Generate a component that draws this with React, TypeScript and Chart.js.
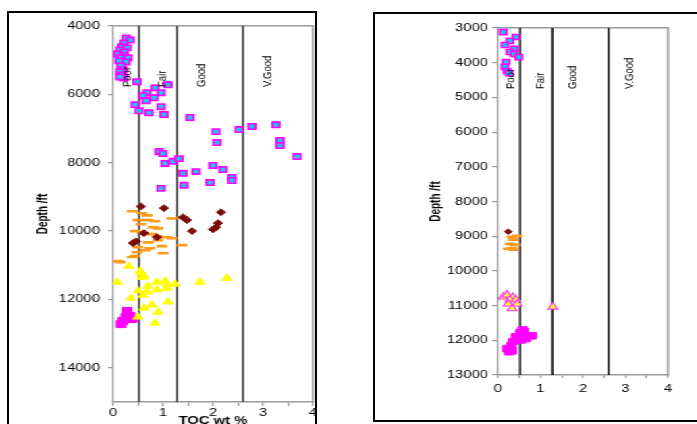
import React, { useEffect, useRef } from 'react';
import { Chart, registerables } from 'chart.js';

Chart.register(...registerables);

// ---------------- data ----------------
const tocMin = 0;
const tocMax = 4;
const tocTicks = [0, 0.5, 1, 1.5, 2, 2.5, 3, 3.5, 4];
const thresholds = [0.52, 1.28, 2.6];
const classNames = ['Poor', 'Fair', 'Good', 'V.Good'];
const classLabelTOC = [0.3, 1.0, 1.77, 3.1];

const leftDepthMin = 4000;
const leftDepthMax = 15000;
const leftDepthTicks = [4000, 6000, 8000, 10000, 12000, 14000];
const rightDepthMin = 3000;
const rightDepthMax = 13000;
const rightDepthTicks = [3000, 4000, 5000, 6000, 7000, 8000, 9000, 10000, 11000, 12000, 13000];

// left well
const leftSquaresTOC = [0.26, 0.34, 0.22, 0.18, 0.28, 0.14, 0.22, 0.10, 0.22, 0.16, 0.30, 0.12, 0.26, 0.16, 0.20, 0.14, 0.18, 0.22, 0.14, 0.48, 1.10, 0.84, 0.68, 0.96, 0.60, 0.82, 0.66, 0.44, 0.96, 0.52, 0.72, 1.02, 1.54, 2.06, 2.08, 2.52, 2.78, 3.26, 3.34, 3.34, 3.68, 0.92, 1.00, 1.04, 1.20, 1.32, 1.40, 1.66, 2.00, 2.20, 2.38, 2.38, 1.94, 1.42, 0.96];
const leftSquaresDepth = [4350, 4410, 4500, 4610, 4640, 4700, 4760, 4820, 4870, 4930, 4930, 5020, 5050, 5170, 5280, 5340, 5430, 5520, 5490, 5630, 5720, 5810, 5950, 5950, 6040, 6100, 6190, 6300, 6360, 6480, 6540, 6590, 6680, 7090, 7410, 7030, 6940, 6890, 7350, 7500, 7820, 7670, 7730, 8020, 7960, 7880, 8310, 8260, 8080, 8200, 8430, 8520, 8580, 8660, 8750];

const leftDiamondsTOC = [0.56, 1.02, 1.40, 1.48, 1.58, 2.16, 2.10, 2.06, 2.00, 0.62, 0.46, 0.40, 0.88];
const leftDiamondsDepth = [9280, 9330, 9600, 9680, 10000, 9450, 9770, 9890, 9950, 10060, 10300, 10350, 10180];

const leftDashesTOC = [0.38, 0.58, 0.68, 1.18, 1.40, 0.50, 0.70, 0.84, 0.56, 0.80, 0.90, 0.44, 0.58, 0.78, 0.88, 1.08, 1.18, 0.90, 0.70, 0.98, 1.38, 0.50, 0.74, 0.64, 0.48, 1.00, 0.44, 0.38, 0.10, 0.14];
const leftDashesDepth = [9420, 9480, 9540, 9630, 9600, 9680, 9680, 9710, 9800, 9890, 9920, 10000, 10030, 10090, 10150, 10180, 10210, 10270, 10330, 10440, 10410, 10470, 10500, 10560, 10620, 10650, 10730, 10760, 10880, 10910];

const leftTrianglesTOC = [0.32, 0.54, 0.58, 0.62, 0.58, 0.08, 0.88, 1.04, 1.08, 1.24, 1.74, 2.28, 0.70, 0.88, 1.08, 0.50, 0.68, 0.60, 0.36, 1.10, 0.78, 0.62, 0.90, 0.50, 0.84];
const leftTrianglesDepth = [11030, 11170, 11230, 11320, 11350, 11490, 11490, 11460, 11550, 11550, 11490, 11380, 11610, 11720, 11670, 11750, 11780, 11870, 11960, 12070, 12160, 12250, 12370, 12510, 12690];

const leftMagentaTOC = [0.28, 0.34, 0.20, 0.38, 0.26, 0.16];
const leftMagentaDepth = [12340, 12480, 12630, 12570, 12510, 12720];

// right well
const rightSquaresTOC = [0.12, 0.42, 0.28, 0.16, 0.38, 0.28, 0.38, 0.49, 0.19, 0.16, 0.21, 0.26];
const rightSquaresDepth = [3120, 3260, 3370, 3490, 3600, 3690, 3750, 3840, 3980, 4120, 4240, 4300];

const rightDiamondsTOC = [0.24];
const rightDiamondsDepth = [8870];

const rightDashesTOC = [0.33, 0.45, 0.36, 0.28, 0.40, 0.33, 0.36, 0.24];
const rightDashesDepth = [9020, 8990, 9100, 9220, 9250, 9340, 9390, 9360];

const rightTrianglesTOC = [0.12, 0.21, 0.35, 0.28, 0.42, 0.24, 0.45, 0.33, 1.29];
const rightTrianglesDepth = [10750, 10690, 10750, 10830, 10830, 10950, 10950, 11090, 11040];

const rightMagentaTOC = [0.52, 0.61, 0.80, 0.42, 0.54, 0.35, 0.31, 0.21, 0.33, 0.26, 0.66, 0.58];
const rightMagentaDepth = [11780, 11750, 11870, 11900, 11990, 12040, 12160, 12240, 12300, 12330, 11950, 11700];

// ---------------- layout / style ----------------
const S = 1.35; // horizontal stretch of the original picture
const CW = 517;
const CH = 440;
const FONT = '"Liberation Sans", Arial, Helvetica, sans-serif';
const AXIS_GRAY = '#9a9a9a';

const pts = (xs: number[], ys: number[]) => xs.map((v, i) => ({ x: v, y: ys[i] }));

const classLabelPlugin = {
  id: 'classLabels',
  afterDatasetsDraw(chart: any) {
    const { ctx, chartArea, scales } = chart;
    ctx.save();
    ctx.font = `9.5px ${FONT}`;
    ctx.fillStyle = '#000';
    ctx.textAlign = 'left';
    ctx.textBaseline = 'middle';
    classNames.forEach((name, i) => {
      const px = scales.x.getPixelForValue(classLabelTOC[i]);
      ctx.save();
      ctx.translate(px, chartArea.top + 61);
      ctx.rotate(-Math.PI / 2);
      ctx.fillText(name, 0, 0);
      ctx.restore();
    });
    ctx.restore();
  },
};

type Series = {
  data: { x: number; y: number }[];
  style: string;
  radius: number;
  bg: string;
  border: string;
  bw: number;
};

type PanelCfg = {
  series: Series[];
  depthMin: number;
  depthMax: number;
  depthTicks: number[];
  area: { left: number; right: number; top: number; bottom: number }; // canvas coords
  padLeft: number;
  yTitlePad: number;
  yTickLen: number;
  yTickPad: number;
  xTickLen: number;
  xTickPad: number;
  xTitle: string | null;
  lineColor: string;
};

function buildConfig(p: PanelCfg): any {
  const xAxisH = 30;
  const datasets: any[] = p.series.map((s) => ({
    data: s.data,
    pointStyle: s.style,
    pointRadius: s.radius,
    pointHoverRadius: s.radius,
    pointBackgroundColor: s.bg,
    pointBorderColor: s.border,
    pointBorderWidth: s.bw,
    showLine: false,
  }));
  thresholds.forEach((t) => {
    datasets.push({
      data: [
        { x: t, y: p.depthMin },
        { x: t, y: p.depthMax },
      ],
      showLine: true,
      pointRadius: 0,
      borderColor: p.lineColor,
      borderWidth: 1.5,
      fill: false,
    });
  });
  return {
    type: 'scatter',
    data: { datasets },
    plugins: [classLabelPlugin],
    options: {
      animation: false,
      responsive: false,
      devicePixelRatio: 1,
      events: [],
      layout: {
        padding: {
          left: p.padLeft,
          top: p.area.top,
          right: CW - p.area.right,
          bottom: CH - p.area.bottom - xAxisH,
        },
      },
      plugins: {
        legend: { display: false },
        tooltip: { enabled: false },
      },
      scales: {
        x: {
          type: 'linear',
          position: 'bottom',
          min: tocMin,
          max: tocMax,
          afterBuildTicks: (s: any) => {
            s.ticks = tocTicks.map((v) => ({ value: v }));
          },
          afterFit: (s: any) => {
            s.height = xAxisH;
          },
          ticks: {
            autoSkip: false,
            maxRotation: 0,
            padding: p.xTickPad,
            color: '#000',
            font: { family: FONT, size: 11 },
            callback: (v: number) => (Number.isInteger(v) ? String(v) : ''),
          },
          grid: { drawOnChartArea: false, drawTicks: true, tickLength: p.xTickLen, color: AXIS_GRAY, lineWidth: 1.2 },
          border: { display: true, color: AXIS_GRAY, width: 1.5 },
          title: p.xTitle
            ? {
                display: true,
                text: p.xTitle,
                color: '#000',
                font: { family: FONT, size: 11, weight: 'bold' },
                padding: { top: 0, bottom: 4.4 },
              }
            : { display: false },
        },
        y: {
          type: 'linear',
          position: 'left',
          reverse: true,
          min: p.depthMin,
          max: p.depthMax,
          afterBuildTicks: (s: any) => {
            s.ticks = p.depthTicks.map((v) => ({ value: v }));
          },
          afterFit: (s: any) => {
            s.width = p.area.left - p.padLeft;
          },
          ticks: {
            autoSkip: false,
            padding: p.yTickPad,
            color: '#000',
            font: { family: FONT, size: 11 },
            callback: (v: number) => String(v),
          },
          grid: { drawOnChartArea: false, drawTicks: true, tickLength: p.yTickLen, color: AXIS_GRAY, lineWidth: 1.2 },
          border: { display: true, color: AXIS_GRAY, width: 1.2 },
          title: {
            display: true,
            text: 'Depth /ft',
            color: '#000',
            font: { family: FONT, size: 10, weight: 'bold' },
            padding: { top: p.yTitlePad, bottom: 0 },
          },
        },
        xFrame: {
          type: 'linear',
          axis: 'x',
          position: 'top',
          min: tocMin,
          max: tocMax,
          display: true,
          afterFit: (s: any) => {
            s.height = 0;
          },
          ticks: { display: false },
          grid: { display: false, drawTicks: false },
          border: { display: true, color: AXIS_GRAY, width: 1.5 },
        },
        yFrame: {
          type: 'linear',
          axis: 'y',
          position: 'right',
          min: p.depthMin,
          max: p.depthMax,
          display: true,
          afterFit: (s: any) => {
            s.width = 0;
          },
          ticks: { display: false },
          grid: { display: false, drawTicks: false },
          border: { display: true, color: AXIS_GRAY, width: 1.5 },
        },
      },
    },
  };
}

const SQ_BG = '#22c4f4';
const MAG = '#ff00ff';

const leftPanel: PanelCfg = {
  series: [
    { data: pts(leftSquaresTOC, leftSquaresDepth), style: 'rect', radius: 3.8, bg: SQ_BG, border: MAG, bw: 1.6 },
    { data: pts(leftDiamondsTOC, leftDiamondsDepth), style: 'rectRot', radius: 3.4, bg: '#7a0c0c', border: '#7a0c0c', bw: 1 },
    { data: pts(leftDashesTOC, leftDashesDepth), style: 'line', radius: 4, bg: '#ff9a1a', border: '#ff9a1a', bw: 2.6 },
    { data: pts(leftTrianglesTOC, leftTrianglesDepth), style: 'triangle', radius: 4.3, bg: '#ffff00', border: '#ffff00', bw: 1 },
    { data: pts(leftMagentaTOC, leftMagentaDepth), style: 'rect', radius: 5, bg: MAG, border: MAG, bw: 1 },
  ],
  depthMin: leftDepthMin,
  depthMax: leftDepthMax,
  depthTicks: leftDepthTicks,
  area: { left: 113 / S, right: 313 / S, top: 26, bottom: 402 },
  padLeft: 20,
  yTitlePad: 5.9,
  yTickLen: 3.7,
  yTickPad: 5.9,
  xTickLen: 4,
  xTickPad: 0.4,
  xTitle: 'TOC wt %',
  lineColor: '#333',
};

const rightPanel: PanelCfg = {
  series: [
    { data: pts(rightSquaresTOC, rightSquaresDepth), style: 'rect', radius: 3.6, bg: SQ_BG, border: MAG, bw: 1.5 },
    { data: pts(rightDiamondsTOC, rightDiamondsDepth), style: 'rectRot', radius: 2.8, bg: '#7a0c0c', border: '#7a0c0c', bw: 1 },
    { data: pts(rightDashesTOC, rightDashesDepth), style: 'line', radius: 4, bg: '#ff9a1a', border: '#ff9a1a', bw: 2.6 },
    { data: pts(rightTrianglesTOC, rightTrianglesDepth), style: 'triangle', radius: 4.2, bg: '#ffff33', border: '#ff33ff', bw: 1.1 },
    { data: pts(rightMagentaTOC, rightMagentaDepth), style: 'rect', radius: 4.6, bg: MAG, border: MAG, bw: 1 },
  ],
  depthMin: rightDepthMin,
  depthMax: rightDepthMax,
  depthTicks: rightDepthTicks,
  area: { left: 498 / S, right: 668 / S, top: 28, bottom: 375 },
  padLeft: 310,
  yTitlePad: 7.7,
  yTickLen: 4.4,
  yTickPad: 3,
  xTickLen: 3,
  xTickPad: 4.4,
  xTitle: null,
  lineColor: '#111',
};

function Panel({ cfg }: { cfg: PanelCfg }) {
  const ref = useRef<HTMLCanvasElement | null>(null);
  useEffect(() => {
    if (!ref.current) return;
    const chart = new Chart(ref.current, buildConfig(cfg));
    return () => chart.destroy();
  }, [cfg]);
  return (
    <canvas
      ref={ref}
      width={CW}
      height={CH}
      style={{ position: 'absolute', left: 0, top: 0, width: CW, height: CH }}
    />
  );
}

export default function App() {
  return (
    <div
      style={{
        position: 'absolute',
        left: 0,
        top: 0,
        width: 697,
        height: 424,
        overflow: 'hidden',
        background: '#fff',
      }}
    >
      <div
        style={{
          position: 'absolute',
          left: 7,
          top: 11,
          width: 310,
          height: 440,
          boxSizing: 'border-box',
          border: '2px solid #000',
        }}
      />
      <div
        style={{
          position: 'absolute',
          left: 373,
          top: 12,
          width: 360,
          height: 410,
          boxSizing: 'border-box',
          border: '2px solid #000',
        }}
      />
      <div
        style={{
          position: 'absolute',
          left: 0,
          top: 0,
          width: CW,
          height: CH,
          transform: `scaleX(${S})`,
          transformOrigin: '0 0',
        }}
      >
        <Panel cfg={leftPanel} />
        <Panel cfg={rightPanel} />
      </div>
    </div>
  );
}
